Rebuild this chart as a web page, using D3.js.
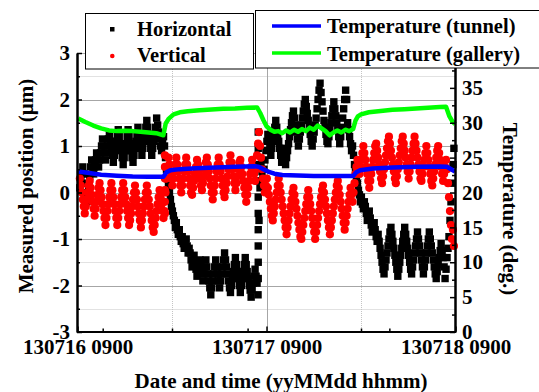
<!DOCTYPE html>
<html>
<head>
<meta charset="utf-8">
<script src="https://cdnjs.cloudflare.com/ajax/libs/d3/7.8.5/d3.min.js"></script>
<style>
  body { margin: 0; background: #fff; }
  svg text { font-family: "Liberation Serif", "Times New Roman", serif; font-weight: bold; fill: #000; }
</style>
</head>
<body>
<div id="chart"></div>
<script>
// Sampling of the position scatter (hours after 130716 0900)
const hStart = 0.3;
const hStep = 0.125;

// Horizontal position (um), one value per sample, 16 samples (2 h) per row
const horizontal = [
    0.1, 0.25, 0.4, 0.55, 0.4, 0.2, 0.0, -0.2, -0.05, 0.15, 0.35, 0.55, 0.7, 0.55, 0.4, 0.55,
    0.7, 0.85, 0.7, 0.55, 0.7, 0.85, 1.0, 1.15, 1.0, 0.85, 0.7, 0.85, 1.0, 1.15, 1.25, 1.1,
    0.95, 0.8, 0.65, 0.8, 0.95, 1.1, 1.25, 1.35, 1.2, 1.05, 0.9, 0.75, 0.6, 0.75, 0.9, 1.05,
    1.2, 1.35, 1.2, 1.05, 0.9, 0.75, 0.65, 0.8, 0.95, 1.1, 1.25, 1.4, 1.25, 1.1, 0.95, 0.8,
    0.95, 1.1, 1.25, 1.4, 1.55, 1.4, 1.25, 1.1, 0.95, 0.8, 0.95, 1.1, 1.25, 1.4, 1.6, 1.45,
    1.3, 1.15, 1.0, 0.9, 1.05, 1.2, 1.0, 0.75, 0.5, 0.3, 0.15, 0.0, -0.15, -0.3, -0.4, -0.5,
    -0.6, -0.75, -0.65, -0.8, -0.9, -0.8, -0.95, -1.05, -0.95, -1.1, -1.2, -1.1, -1.0, -1.15, -1.3, -1.2,
    -1.3, -1.45, -1.6, -1.5, -1.35, -1.5, -1.65, -1.8, -1.7, -1.55, -1.45, -1.6, -1.75, -1.9, -1.75, -1.6,
    -1.45, -1.6, -1.75, -1.9, -2.05, -2.2, -2.05, -1.9, -1.75, -1.6, -1.45, -1.6, -1.75, -1.9, -2.05, -1.9,
    -1.75, -1.6, -1.45, -1.3, -1.45, -1.6, -1.75, -1.9, -2.05, -2.15, -2.0, -1.85, -1.7, -1.55, -1.4, -1.55,
    -1.7, -1.85, -2.0, -2.15, -2.0, -1.85, -1.7, -1.55, -1.4, -1.55, -1.7, -1.85, -2.0, -2.1, -2.25, -2.1,
    -1.95, -1.8, -1.65, -1.8, -1.95, -2.2, -0.6, 0.1, 0.6, 0.45, 0.3, 0.5, 0.7, 0.9, 1.1, 1.25,
    1.1, 0.95, 0.8, 0.95, 1.1, 1.25, 1.4, 1.55, 1.4, 1.25, 1.1, 0.95, 0.8, 0.65, 0.8, 0.95,
    0.75, 0.6, 0.75, 0.9, 1.05, 1.2, 1.35, 1.5, 1.65, 1.75, 1.6, 1.45, 1.3, 1.15, 1.0, 1.15,
    1.3, 1.45, 1.6, 1.75, 1.9, 2.0, 1.85, 1.7, 1.55, 1.4, 1.25, 1.1, 1.0, 1.15, 1.3, 1.45,
    1.6, 1.8, 2.0, 2.2, 2.35, 2.15, 1.95, 1.75, 1.55, 1.4, 1.25, 1.1, 1.05, 1.2, 1.35, 1.5,
    1.65, 1.8, 1.95, 1.8, 1.65, 1.5, 1.35, 1.2, 1.05, 1.2, 1.4, 1.6, 1.8, 2.0, 2.2, 2.0,
    1.5, 1.35, 1.2, 1.05, 0.9, 1.0, 0.8, 0.6, 0.45, 0.3, 0.2, 0.05, -0.05, -0.2, -0.1, -0.25,
    -0.35, -0.2, -0.3, -0.45, -0.6, -0.5, -0.4, -0.55, -0.7, -0.85, -0.75, -0.65, -0.8, -0.95, -1.05, -0.9,
    -1.05, -1.2, -1.35, -1.5, -1.65, -1.75, -1.6, -1.45, -1.3, -1.15, -1.0, -0.85, -0.75, -0.9, -1.05, -1.2,
    -1.35, -1.5, -1.65, -1.8, -1.65, -1.5, -1.35, -1.2, -1.05, -0.9, -0.75, -0.9, -1.05, -1.2, -1.35, -1.5,
    -1.65, -1.75, -1.6, -1.45, -1.3, -1.15, -1.0, -0.85, -1.0, -1.15, -1.3, -1.45, -1.6, -1.75, -1.6, -1.45,
    -1.3, -1.15, -1.0, -0.85, -1.0, -1.15, -1.3, -1.45, -1.6, -1.75, -1.85, -1.7, -1.55, -1.4, -1.25, -1.1,
    -1.25, -1.4, -1.6, -1.85, -1.65, -1.4, -1.2, -0.95, -0.6, -0.2, 0.2, 0.6, 0.95
];

// Fast rise of the horizontal position around 130717 0800
const horizJumpHours = [22.95, 22.95, 22.95, 22.95, 22.95, 22.95, 22.95, 22.95, 22.95, 22.95];
const horizJumpValues = [-1.85, -1.5, -1.15, -0.8, -0.45, -0.1, 0.25, 0.6, 0.95, 1.3];

// Vertical position (um), same sampling
const vertical = [
    0.3, 0.15, 0.0, -0.15, -0.3, -0.45, -0.3, -0.15, 0.0, 0.15, 0.25, 0.1, -0.05, -0.2, -0.35, -0.5,
    -0.35, -0.2, -0.05, 0.1, 0.2, 0.05, -0.1, -0.25, -0.4, -0.55, -0.7, -0.55, -0.4, -0.25, -0.1, 0.05,
    0.2, 0.05, -0.1, -0.25, -0.4, -0.55, -0.7, -0.55, -0.4, -0.25, -0.1, 0.05, 0.2, 0.05, -0.1, -0.25,
    -0.4, -0.55, -0.7, -0.6, -0.45, -0.3, -0.15, 0.0, 0.15, 0.0, -0.15, -0.3, -0.45, -0.6, -0.75, -0.6,
    -0.45, -0.3, -0.15, 0.0, 0.15, 0.0, -0.15, -0.3, -0.45, -0.6, -0.75, -0.85, -0.7, -0.55, -0.4, -0.25,
    -0.1, 0.05, -0.1, -0.25, -0.4, -0.55, -0.4, 0.0, 0.3, 0.55, 0.75, 0.6, 0.45, 0.3, 0.15, 0.3,
    0.45, 0.6, 0.75, 0.6, 0.45, 0.3, 0.15, 0.0, 0.15, 0.3, 0.45, 0.6, 0.75, 0.6, 0.45, 0.3,
    0.15, 0.0, -0.05, 0.1, 0.25, 0.4, 0.55, 0.7, 0.6, 0.45, 0.3, 0.15, 0.05, 0.2, 0.35, 0.5,
    0.65, 0.75, 0.6, 0.45, 0.3, 0.15, 0.0, -0.15, 0.0, 0.15, 0.3, 0.45, 0.6, 0.75, 0.6, 0.45,
    0.3, 0.15, 0.0, -0.1, 0.05, 0.2, 0.35, 0.5, 0.65, 0.8, 0.65, 0.5, 0.35, 0.2, 0.05, 0.2,
    0.35, 0.5, 0.65, 0.7, 0.55, 0.4, 0.25, 0.1, -0.05, -0.2, -0.05, 0.1, 0.25, 0.4, 0.55, 0.7,
    0.55, 0.4, 0.25, 0.5, 0.8, 1.05, 1.3, 1.0, 0.75, 0.5, 0.3, 0.15, 0.0, 0.15, 0.3, 0.1,
    -0.05, -0.2, -0.35, -0.5, -0.6, -0.45, -0.3, -0.15, 0.0, 0.15, 0.3, 0.15, 0.0, -0.15, -0.3, -0.45,
    -0.6, -0.75, -0.9, -0.75, -0.6, -0.45, -0.3, -0.15, 0.0, 0.1, -0.05, -0.2, -0.35, -0.5, -0.65, -0.8,
    -0.95, -1.0, -0.85, -0.7, -0.55, -0.4, -0.25, -0.1, 0.05, -0.1, -0.25, -0.4, -0.55, -0.7, -0.85, -1.0,
    -0.85, -0.7, -0.55, -0.4, -0.25, -0.1, 0.05, 0.15, 0.0, -0.15, -0.3, -0.45, -0.6, -0.75, -0.9, -0.75,
    -0.6, -0.45, -0.3, -0.15, 0.0, 0.15, 0.25, 0.1, -0.05, -0.2, -0.35, -0.5, -0.65, -0.8, -0.65, -0.5,
    -0.35, -0.2, -0.05, 0.1, -0.05, -0.2, 0.0, 0.2, 0.4, 0.55, 0.7, 0.55, 0.4, 0.55, 0.7, 0.85,
    1.0, 0.85, 0.7, 0.55, 0.4, 0.25, 0.1, 0.25, 0.4, 0.55, 0.7, 0.85, 1.0, 1.05, 0.9, 0.75,
    0.6, 0.45, 0.3, 0.2, 0.35, 0.5, 0.65, 0.8, 0.95, 1.1, 1.2, 1.05, 0.9, 0.75, 0.6, 0.45,
    0.3, 0.2, 0.35, 0.5, 0.65, 0.8, 0.95, 1.1, 1.2, 1.05, 0.9, 0.75, 0.6, 0.45, 0.3, 0.45,
    0.6, 0.75, 0.9, 1.05, 1.2, 1.05, 0.9, 0.75, 0.6, 0.45, 0.3, 0.25, 0.4, 0.55, 0.7, 0.85,
    1.0, 0.85, 0.7, 0.55, 0.4, 0.25, 0.15, 0.3, 0.45, 0.6, 0.75, 0.9, 1.0, 0.85, 0.7, 0.55,
    0.4, 0.25, 0.4, 0.55, 0.7, 0.5, 0.2, -0.1, -0.4, -0.7, -1.0, -0.8, -1.15
];

// Fast step of the vertical position around 130716 2000
const vertJumpHours = [11.1, 11.1, 11.1, 11.1, 11.1, 11.1];
const vertJumpValues = [-0.45, -0.2, 0.05, 0.3, 0.55, 0.8];

// Temperature in the tunnel (deg.)
const tunnelHours = [0.1, 1.5, 3.0, 5.0, 7.0, 9.0, 10.9, 11.3, 11.8, 13.0, 15.0, 17.5, 20.0, 22.5,
    23.0, 23.6, 24.2, 25.0, 26.0, 28.0, 30.0, 32.0, 34.0, 35.0, 35.4, 35.9, 37.5, 40.0, 43.0, 46.0,
    46.9, 47.5, 47.95];
const tunnelTemp = [23.0, 22.8, 22.55, 22.4, 22.3, 22.27, 22.25, 22.9, 23.2, 23.35, 23.47, 23.58, 23.68, 23.75,
    23.7, 23.35, 23.0, 22.7, 22.5, 22.42, 22.38, 22.36, 22.35, 22.35, 22.9, 23.2, 23.45, 23.6, 23.68, 23.72,
    23.7, 23.3, 23.0];

// Temperature in the gallery (deg.)
const galleryHours = [0.1, 1.0, 2.0, 3.0, 4.0, 5.0, 6.0, 7.0, 8.0, 9.0, 10.0, 10.9, 11.2, 11.6, 12.2, 13.0,
    14.0, 15.5, 17.0, 18.5, 20.0, 21.5, 22.8, 23.2, 23.6, 24.0, 24.5, 25.0, 25.5, 26.0, 26.5, 27.0, 27.5,
    28.0, 28.5, 29.0, 29.5, 30.0, 30.5, 31.0, 31.5, 32.0, 32.5, 33.0, 33.5, 34.0, 34.5, 35.0, 35.3, 35.6,
    36.0, 37.0, 38.5, 40.0, 41.5, 43.0, 44.5, 46.0, 46.8, 47.2, 47.6, 47.95];
const galleryTemp = [30.6, 30.1, 29.6, 29.2, 28.9, 28.8, 28.85, 28.8, 28.7, 28.6, 28.5, 28.2, 29.9, 30.6, 31.2, 31.5,
    31.65, 31.8, 31.9, 32.0, 32.05, 32.15, 32.2, 31.4, 30.4, 29.5, 29.0, 28.7, 28.8, 28.5, 28.9, 28.6, 29.0,
    28.7, 29.1, 28.8, 29.3, 29.0, 29.6, 29.2, 28.8, 28.2, 28.6, 28.9, 28.6, 29.0, 28.8, 29.1, 30.3, 30.9,
    31.2, 31.5, 31.7, 31.85, 31.95, 32.05, 32.15, 32.25, 32.3, 31.0, 30.2, 29.8];

// Axis ticks
const xMajorTicks = [0, 24, 48];
const xTickLabels = ['130716 0900', '130717 0900', '130718 0900'];
const xMinorTicks = [3.2, 12, 21.6, 36, 39.6];
const yMajorTicks = [-3, -2, -1, 0, 1, 2, 3];
const yMinorTicks = [-2.5, -1.5, -0.5, 0.5, 1.5, 2.5];
const tMajorTicks = [0, 5, 10, 15, 20, 25, 30, 35];
const tMinorTicks = [2.5, 7.5, 12.5, 17.5, 22.5, 27.5, 32.5, 37.5];

const width = 539;
const height = 392;

const svg = d3.select('#chart')
    .append('svg')
    .attr('width', width)
    .attr('height', height);

// Scales
const x = d3.scaleLinear().domain([0, 48]).range([77.5, 455.5]);
const y = d3.scaleLinear().domain([-3, 3]).range([332, 53]);
const yT = d3.scaleLinear().domain([0, 40]).range([332, 53]);

const crisp = v => Math.round(v) + 0.5;

// Grid lines: solid on the whole values, dotted on the halves
const grid = svg.append('g');
grid.selectAll('.gy').data(yMajorTicks.filter(d => d > -3))
    .join('line')
    .attr('x1', x(0)).attr('x2', x(48))
    .attr('y1', d => crisp(y(d))).attr('y2', d => crisp(y(d)))
    .attr('stroke', '#a6a6a6').attr('stroke-width', 1);
grid.selectAll('.gy2').data(yMinorTicks)
    .join('line')
    .attr('x1', x(0)).attr('x2', x(48))
    .attr('y1', d => crisp(y(d))).attr('y2', d => crisp(y(d)))
    .attr('stroke', '#c4c4c4').attr('stroke-width', 1).attr('stroke-dasharray', '1,1');
grid.selectAll('.gx').data([24])
    .join('line')
    .attr('y1', y(-3)).attr('y2', y(3))
    .attr('x1', d => crisp(x(d))).attr('x2', d => crisp(x(d)))
    .attr('stroke', '#a6a6a6').attr('stroke-width', 1);
grid.selectAll('.gx2').data([12, 36])
    .join('line')
    .attr('y1', y(-3)).attr('y2', y(3))
    .attr('x1', d => crisp(x(d))).attr('x2', d => crisp(x(d)))
    .attr('stroke', '#c4c4c4').attr('stroke-width', 1).attr('stroke-dasharray', '1,1');

// Horizontal: black squares
const sq = 7.4;
const hPoints = horizontal.map((v, i) => [hStart + i * hStep, v])
    .concat(horizJumpHours.map((h, i) => [h, horizJumpValues[i]]));
svg.append('g')
    .selectAll('rect')
    .data(hPoints)
    .join('rect')
    .attr('x', d => x(d[0]) - sq / 2)
    .attr('y', d => y(d[1]) - sq / 2)
    .attr('width', sq)
    .attr('height', sq)
    .attr('fill', '#000');

// Vertical: red circles
const vPoints = vertical.map((v, i) => [hStart + i * hStep, v])
    .concat(vertJumpHours.map((h, i) => [h, vertJumpValues[i]]));
svg.append('g')
    .selectAll('circle')
    .data(vPoints)
    .join('circle')
    .attr('cx', d => x(d[0]))
    .attr('cy', d => y(d[1]))
    .attr('r', 4.1)
    .attr('fill', '#ff0000');

// Temperature lines
const tLine = d3.line().x(d => x(d[0])).y(d => yT(d[1]));
svg.append('path')
    .datum(galleryHours.map((h, i) => [h, galleryTemp[i]]))
    .attr('d', tLine)
    .attr('fill', 'none')
    .attr('stroke', '#00ff00')
    .attr('stroke-width', 4.5)
    .attr('stroke-linejoin', 'round');
svg.append('path')
    .datum(tunnelHours.map((h, i) => [h, tunnelTemp[i]]))
    .attr('d', tLine)
    .attr('fill', 'none')
    .attr('stroke', '#0000ff')
    .attr('stroke-width', 4.5)
    .attr('stroke-linejoin', 'round');

// Axes (ticks point inwards)
const styleAxis = g => {
    g.select('.domain').attr('stroke', '#000').attr('stroke-width', 2);
    g.selectAll('.tick line').attr('stroke', '#000').attr('stroke-width', 1.5);
    g.selectAll('text').attr('font-size', '21px');
    g.attr('font-family', null);
};

svg.append('g')
    .attr('transform', 'translate(77,0)')
    .call(d3.axisLeft(y).tickValues(yMinorTicks).tickSize(-3).tickSizeOuter(0).tickFormat(''))
    .call(styleAxis);
svg.append('g')
    .attr('transform', 'translate(77,0)')
    .call(d3.axisLeft(y).tickValues(yMajorTicks).tickSize(-5).tickSizeOuter(0).tickPadding(7)
        .tickFormat(d => String(d)))
    .call(styleAxis);

svg.append('g')
    .attr('transform', 'translate(455,0)')
    .call(d3.axisRight(yT).tickValues(tMinorTicks).tickSize(-3).tickSizeOuter(0).tickFormat(''))
    .call(styleAxis);
svg.append('g')
    .attr('transform', 'translate(455,0)')
    .call(d3.axisRight(yT).tickValues(tMajorTicks).tickSize(-5).tickSizeOuter(0).tickPadding(7))
    .call(styleAxis);

svg.append('g')
    .attr('transform', 'translate(0,331.5)')
    .call(d3.axisBottom(x).tickValues(xMinorTicks).tickSize(-3).tickSizeOuter(0).tickFormat(''))
    .call(styleAxis);
svg.append('g')
    .attr('transform', 'translate(0,331.5)')
    .call(d3.axisBottom(x).tickValues(xMajorTicks).tickSize(-5).tickSizeOuter(0).tickPadding(8)
        .tickFormat((d, i) => xTickLabels[i]))
    .call(styleAxis);

// Axis titles
svg.append('text')
    .attr('transform', 'translate(33,186) rotate(-90)')
    .attr('text-anchor', 'middle')
    .attr('font-size', '21px')
    .text('Measured position (\u00b5m)');
svg.append('text')
    .attr('transform', 'translate(503,209) rotate(90)')
    .attr('text-anchor', 'middle')
    .attr('font-size', '21px')
    .text('Temperature (deg.)');
svg.append('text')
    .attr('x', 281)
    .attr('y', 388)
    .attr('text-anchor', 'middle')
    .attr('font-size', '21px')
    .text('Date and time (yyMMdd hhmm)');

// Legend for the positions
const legL = svg.append('g');
legL.append('rect')
    .attr('x', 85.5).attr('y', 13.5).attr('width', 168).attr('height', 55.5)
    .attr('fill', '#fff').attr('stroke', '#000').attr('stroke-width', 1);
legL.append('rect')
    .attr('x', 110).attr('y', 27).attr('width', 4.5).attr('height', 4.5).attr('fill', '#000');
legL.append('circle')
    .attr('cx', 112.3).attr('cy', 56).attr('r', 2.3).attr('fill', '#ff0000');
legL.append('text').attr('x', 137).attr('y', 36).attr('font-size', '20.5px').text('Horizontal');
legL.append('text').attr('x', 137).attr('y', 62).attr('font-size', '20.5px').text('Vertical');

// Legend for the temperatures
const legR = svg.append('g');
legR.append('rect')
    .attr('x', 255.5).attr('y', 10.5).attr('width', 300).attr('height', 57.5)
    .attr('fill', '#fff').attr('stroke', '#000').attr('stroke-width', 1);
legR.append('line')
    .attr('x1', 272).attr('x2', 321).attr('y1', 26).attr('y2', 26)
    .attr('stroke', '#0000ff').attr('stroke-width', 3.5);
legR.append('line')
    .attr('x1', 272).attr('x2', 321).attr('y1', 53).attr('y2', 53)
    .attr('stroke', '#00ff00').attr('stroke-width', 3.5);
legR.append('text').attr('x', 327).attr('y', 33).attr('font-size', '20.5px').text('Temperature (tunnel)');
legR.append('text').attr('x', 327).attr('y', 60.5).attr('font-size', '20.5px').text('Temperature (gallery)');
</script>
</body>
</html>
